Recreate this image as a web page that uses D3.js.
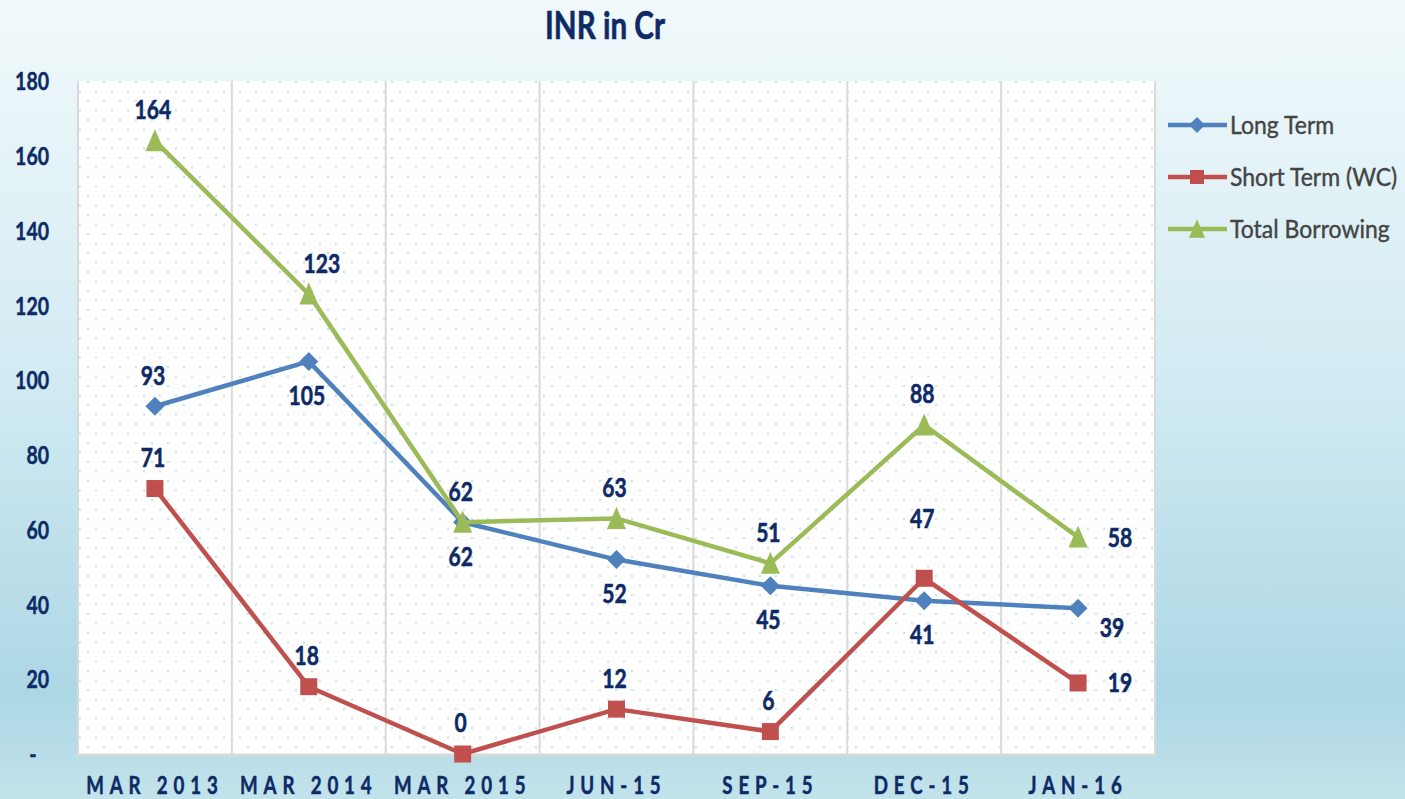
<!DOCTYPE html>
<html><head><meta charset="utf-8">
<script src="https://cdn.jsdelivr.net/npm/d3@7"></script>
<style>body{margin:0;background:#fff}svg{display:block}</style>
</head><body>
<svg id="chart" width="1405" height="799"></svg>
<script>
// ---------- data ----------
const categories = ["MAR 2013","MAR 2014","MAR 2015","JUN-15","SEP-15","DEC-15","JAN-16"];
const longTerm = [93,105,62,52,45,41,39];
const shortTerm = [71,18,0,12,6,47,19];
const totalBorrowing = [164,123,62,63,51,88,58];
const yTicks = [0,20,40,60,80,100,120,140,160,180];
const seriesNames = ["Long Term","Short Term (WC)","Total Borrowing"];
const titleText = "INR in Cr";
// label placement keywords per point
const longTermLabelPos = ["above","below","below","below","below","below","belowRight"];
const shortTermLabelPos = ["above","above","above","above","above","high","right"];
const totalLabelPos = ["above","aboveRight","above","above","above","above","right"];

// ---------- layout ----------
const W = 1405, H = 799;
const plot = {left: 78, right: 1155, top: 81, bottom: 754};
const FONT = "Lato,'Open Sans',sans-serif";
const NAVY = "#0e2a66";
const K = 0.78; // horizontal condensing of bold texts
const colors = ["#4f81bd","#c0504d","#9bbb59"];
const shapes = ["diamond","square","triangle"];
const offsets = {above:[0,-31], below:[0,34], belowRight:[36,19], right:[44,0], aboveRight:[15,-31], high:[0,-60]};

const svg = d3.select("#chart");
const defs = svg.append("defs");
const grad = defs.append("linearGradient").attr("id","bg").attr("x1",0).attr("y1",0).attr("x2",0).attr("y2",1);
grad.append("stop").attr("offset","0%").attr("stop-color","#f1f9fb");
grad.append("stop").attr("offset","45%").attr("stop-color","#d4ecf3");
grad.append("stop").attr("offset","87%").attr("stop-color","#acd7e5");
grad.append("stop").attr("offset","100%").attr("stop-color","#c3e3eb");
const pat = defs.append("pattern").attr("id","dots").attr("patternUnits","userSpaceOnUse")
  .attr("width",16).attr("height",19).attr("x",87).attr("y",81);
pat.append("rect").attr("width",16).attr("height",19).attr("fill","#ffffff");
pat.append("rect").attr("x",0).attr("y",0).attr("width",2).attr("height",2).attr("fill","#c4e1ec");
pat.append("rect").attr("x",8).attr("y",9.5).attr("width",2).attr("height",2).attr("fill","#c4e1ec");

svg.append("rect").attr("width",W).attr("height",H).attr("fill","url(#bg)");

const x = d3.scaleBand().domain(categories).range([plot.left, plot.right]).padding(0);
const cx = c => x(c) + x.bandwidth()/2;
const y = d3.scaleLinear().domain([0,180]).range([plot.bottom, plot.top]);

// plot area
svg.append("rect").attr("x",plot.left).attr("y",plot.top)
  .attr("width",plot.right-plot.left).attr("height",plot.bottom-plot.top).attr("fill","url(#dots)");

// vertical gridlines at category boundaries
const bounds = categories.map(c => x(c)).concat([plot.right]);
svg.append("g").selectAll("line").data(bounds).join("line")
  .attr("x1",d=>d).attr("x2",d=>d).attr("y1",plot.top).attr("y2",plot.bottom)
  .attr("stroke","#d9d9d9").attr("stroke-width",2);
svg.append("line").attr("x1",plot.left-1).attr("x2",plot.right+1).attr("y1",plot.bottom+1).attr("y2",plot.bottom+1)
  .attr("stroke","#d9d9d9").attr("stroke-width",3);

// condensed text helper
function ctext(parent, tx, ty, str, size, k, anchor) {
  return parent.append("text").attr("transform",`translate(${tx},${ty}) scale(${k},1)`)
    .attr("dy","0.35em").attr("text-anchor",anchor||"middle")
    .attr("font-family",FONT).attr("font-weight","bold").attr("font-size",size).attr("fill",NAVY)
    .attr("stroke",NAVY).attr("stroke-width",0.6).text(str);
}

// title
ctext(svg, 605, 26, titleText, 38, K);

// y axis
const yAxis = d3.axisLeft(y).tickValues(yTicks).tickSize(0).tickPadding(0)
  .tickFormat(d => d === 0 ? "-" : d);
const yg = svg.append("g").attr("transform",`translate(49,0)`).call(yAxis);
yg.select(".domain").remove();
yg.selectAll("text").attr("font-family",FONT).attr("font-weight","bold").attr("font-size",25)
  .attr("fill",NAVY).attr("stroke",NAVY).attr("stroke-width",0.5)
  .attr("dy","0.35em").attr("transform",`scale(${K},1)`)
  .attr("dx", d => d === 0 ? -16 : 0);

// x axis
const xAxis = d3.axisBottom(x).tickSize(0).tickPadding(0);
const xg = svg.append("g").attr("transform",`translate(0,${plot.bottom})`).call(xAxis);
xg.select(".domain").remove();
xg.selectAll("text").attr("font-family",FONT).attr("font-weight","bold").attr("font-size",24)
  .attr("fill",NAVY).attr("stroke",NAVY).attr("stroke-width",0.5)
  .attr("y",32).attr("dy","0.35em").attr("letter-spacing","7.5px")
  .attr("transform",`scale(${K},1)`);

// marker path generator
function markerPath(shape, s) {
  if (shape === "diamond") return `M0,${-s}L${s},0L0,${s}L${-s},0Z`;
  if (shape === "square") return `M${-s},${-s}H${s}V${s}H${-s}Z`;
  return `M0,${-s*1.22}L${s},${s*1.1}H${-s}Z`;
}

const series = [
  {name: seriesNames[0], values: longTerm, pos: longTermLabelPos},
  {name: seriesNames[1], values: shortTerm, pos: shortTermLabelPos},
  {name: seriesNames[2], values: totalBorrowing, pos: totalLabelPos}
];
const markerSize = [9.5, 8.5, 9.5];

const line = d3.line().x((d,i)=>cx(categories[i])).y(d=>y(d));
series.forEach((s,k) => {
  const g = svg.append("g");
  g.append("path").datum(s.values).attr("d",line).attr("fill","none")
    .attr("stroke",colors[k]).attr("stroke-width",4.5).attr("stroke-linejoin","round");
  g.selectAll("path.m").data(s.values).join("path").attr("class","m")
    .attr("transform",(d,i)=>`translate(${cx(categories[i])},${y(d)})`)
    .attr("d",markerPath(shapes[k], markerSize[k])).attr("fill",colors[k]);
});
// data labels on top
series.forEach((s,k) => {
  const g = svg.append("g");
  s.values.forEach((d,i) => {
    const o = offsets[s.pos[i]];
    ctext(g, cx(categories[i]) + o[0] - 2, y(d) + o[1], d, 27, K);
  });
});

// legend
const lg = svg.append("g");
series.forEach((s,k) => {
  const ly = 125 + k*52;
  lg.append("line").attr("x1",1168).attr("x2",1227).attr("y1",ly).attr("y2",ly)
    .attr("stroke",colors[k]).attr("stroke-width",4.5);
  lg.append("path").attr("transform",`translate(1197,${ly})`).attr("d",markerPath(shapes[k], markerSize[k]-1.5)).attr("fill",colors[k]);
  lg.append("text").attr("transform",`translate(1230,${ly}) scale(0.92,1)`).attr("dy","0.35em")
    .attr("font-family",FONT).attr("font-size",25).attr("fill","#444444")
    .attr("stroke","#444444").attr("stroke-width",0.4).text(s.name);
});
</script>
</body></html>
